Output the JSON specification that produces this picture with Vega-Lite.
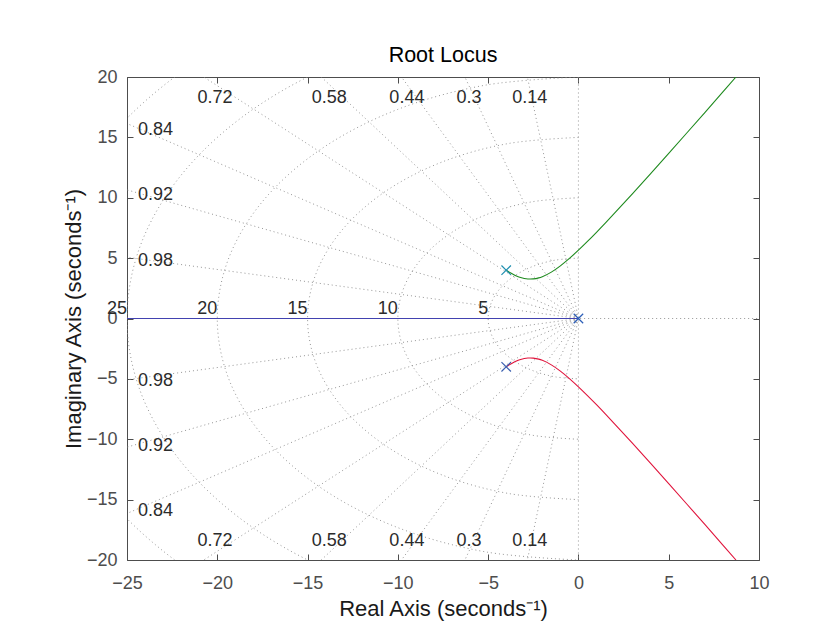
{
  "$schema": "https://vega.github.io/schema/vega-lite/v6.json",
  "width": 632,
  "height": 483,
  "autosize": "none",
  "padding": {"left": 127, "top": 77, "right": 81, "bottom": 70},
  "background": "white",
  "view": {"stroke": null},
  "config": {"font": "Liberation Sans"},
  "title": {"text": "Root Locus", "fontSize": 21.5, "fontWeight": "normal", "color": "#000000", "font": "Liberation Sans", "offset": -15, "baseline": "alphabetic", "anchor": "middle"},
  "datasets": {
    "circles": [
      {"r":5,"o":0,"x":0,"y":5},{"r":5,"o":1,"x":-1.294,"y":4.83},{"r":5,"o":2,"x":-2.5,"y":4.33},{"r":5,"o":3,"x":-3.536,"y":3.536},{"r":5,"o":4,"x":-4.33,"y":2.5},{"r":5,"o":5,"x":-4.83,"y":1.294},{"r":5,"o":6,"x":-5,"y":0},{"r":5,"o":7,"x":-4.83,"y":-1.294},{"r":5,"o":8,"x":-4.33,"y":-2.5},{"r":5,"o":9,"x":-3.536,"y":-3.536},{"r":5,"o":10,"x":-2.5,"y":-4.33},{"r":5,"o":11,"x":-1.294,"y":-4.83},{"r":5,"o":12,"x":0,"y":-5},
      {"r":10,"o":0,"x":0,"y":10},{"r":10,"o":1,"x":-2.588,"y":9.659},{"r":10,"o":2,"x":-5,"y":8.66},{"r":10,"o":3,"x":-7.071,"y":7.071},{"r":10,"o":4,"x":-8.66,"y":5},{"r":10,"o":5,"x":-9.659,"y":2.588},{"r":10,"o":6,"x":-10,"y":0},{"r":10,"o":7,"x":-9.659,"y":-2.588},{"r":10,"o":8,"x":-8.66,"y":-5},{"r":10,"o":9,"x":-7.071,"y":-7.071},{"r":10,"o":10,"x":-5,"y":-8.66},{"r":10,"o":11,"x":-2.588,"y":-9.659},{"r":10,"o":12,"x":0,"y":-10},
      {"r":15,"o":0,"x":0,"y":15},{"r":15,"o":1,"x":-3.882,"y":14.489},{"r":15,"o":2,"x":-7.5,"y":12.99},{"r":15,"o":3,"x":-10.607,"y":10.607},{"r":15,"o":4,"x":-12.99,"y":7.5},{"r":15,"o":5,"x":-14.489,"y":3.882},{"r":15,"o":6,"x":-15,"y":0},{"r":15,"o":7,"x":-14.489,"y":-3.882},{"r":15,"o":8,"x":-12.99,"y":-7.5},{"r":15,"o":9,"x":-10.607,"y":-10.607},{"r":15,"o":10,"x":-7.5,"y":-12.99},{"r":15,"o":11,"x":-3.882,"y":-14.489},{"r":15,"o":12,"x":0,"y":-15},
      {"r":20,"o":0,"x":0,"y":20},{"r":20,"o":1,"x":-5.176,"y":19.319},{"r":20,"o":2,"x":-10,"y":17.321},{"r":20,"o":3,"x":-14.142,"y":14.142},{"r":20,"o":4,"x":-17.321,"y":10},{"r":20,"o":5,"x":-19.319,"y":5.176},{"r":20,"o":6,"x":-20,"y":0},{"r":20,"o":7,"x":-19.319,"y":-5.176},{"r":20,"o":8,"x":-17.321,"y":-10},{"r":20,"o":9,"x":-14.142,"y":-14.142},{"r":20,"o":10,"x":-10,"y":-17.321},{"r":20,"o":11,"x":-5.176,"y":-19.319},{"r":20,"o":12,"x":0,"y":-20},
      {"r":25,"o":0,"x":0,"y":25},{"r":25,"o":1,"x":-6.47,"y":24.148},{"r":25,"o":2,"x":-12.5,"y":21.651},{"r":25,"o":3,"x":-17.678,"y":17.678},{"r":25,"o":4,"x":-21.651,"y":12.5},{"r":25,"o":5,"x":-24.148,"y":6.47},{"r":25,"o":6,"x":-25,"y":0},{"r":25,"o":7,"x":-24.148,"y":-6.47},{"r":25,"o":8,"x":-21.651,"y":-12.5},{"r":25,"o":9,"x":-17.678,"y":-17.678},{"r":25,"o":10,"x":-12.5,"y":-21.651},{"r":25,"o":11,"x":-6.47,"y":-24.148},{"r":25,"o":12,"x":0,"y":-25},
      {"r":30,"o":0,"x":0,"y":30},{"r":30,"o":1,"x":-7.765,"y":28.978},{"r":30,"o":2,"x":-15,"y":25.981},{"r":30,"o":3,"x":-21.213,"y":21.213},{"r":30,"o":4,"x":-25.981,"y":15},{"r":30,"o":5,"x":-28.978,"y":7.765},{"r":30,"o":6,"x":-30,"y":0},{"r":30,"o":7,"x":-28.978,"y":-7.765},{"r":30,"o":8,"x":-25.981,"y":-15},{"r":30,"o":9,"x":-21.213,"y":-21.213},{"r":30,"o":10,"x":-15,"y":-25.981},{"r":30,"o":11,"x":-7.765,"y":-28.978},{"r":30,"o":12,"x":0,"y":-30}
    ],
    "rays": [
      {"x":0,"y":0,"x2":-5.6,"y2":39.61},{"x":0,"y":0,"x2":-5.6,"y2":-39.61},
      {"x":0,"y":0,"x2":-12,"y2":38.16},{"x":0,"y":0,"x2":-12,"y2":-38.16},
      {"x":0,"y":0,"x2":-17.6,"y2":35.92},{"x":0,"y":0,"x2":-17.6,"y2":-35.92},
      {"x":0,"y":0,"x2":-23.2,"y2":32.58},{"x":0,"y":0,"x2":-23.2,"y2":-32.58},
      {"x":0,"y":0,"x2":-28.8,"y2":27.76},{"x":0,"y":0,"x2":-28.8,"y2":-27.76},
      {"x":0,"y":0,"x2":-33.6,"y2":21.7},{"x":0,"y":0,"x2":-33.6,"y2":-21.7},
      {"x":0,"y":0,"x2":-36.8,"y2":15.68},{"x":0,"y":0,"x2":-36.8,"y2":-15.68},
      {"x":0,"y":0,"x2":-39.2,"y2":7.96},{"x":0,"y":0,"x2":-39.2,"y2":-7.96},
      {"x":0,"y":-40,"x2":0,"y2":40},
      {"x":-40,"y":0,"x2":40,"y2":0}
    ],
    "locus": [
      {"b":"real","x":-40,"y":0},{"b":"real","x":0,"y":0},
      {"b":"up","x":-4,"y":4},{"b":"up","x":-3.8,"y":3.811},{"b":"up","x":-3.6,"y":3.644},{"b":"up","x":-3.4,"y":3.504},{"b":"up","x":-3.2,"y":3.394},{"b":"up","x":-3.0,"y":3.317},{"b":"up","x":-2.8,"y":3.274},{"b":"up","x":-2.667,"y":3.266},{"b":"up","x":-2.5,"y":3.279},{"b":"up","x":-2.2,"y":3.365},{"b":"up","x":-2.0,"y":3.464},{"b":"up","x":-1.5,"y":3.841},{"b":"up","x":-1.0,"y":4.359},{"b":"up","x":-0.5,"y":4.975},{"b":"up","x":0,"y":5.657},{"b":"up","x":0.5,"y":6.384},{"b":"up","x":1,"y":7.141},{"b":"up","x":1.5,"y":7.921},{"b":"up","x":2,"y":8.718},{"b":"up","x":3,"y":10.344},{"b":"up","x":4,"y":12},{"b":"up","x":5,"y":13.675},{"b":"up","x":6,"y":15.362},{"b":"up","x":7,"y":17.059},{"b":"up","x":8,"y":18.762},{"b":"up","x":8.725,"y":20},
      {"b":"lo","x":-4,"y":-4},{"b":"lo","x":-3.8,"y":-3.811},{"b":"lo","x":-3.6,"y":-3.644},{"b":"lo","x":-3.4,"y":-3.504},{"b":"lo","x":-3.2,"y":-3.394},{"b":"lo","x":-3.0,"y":-3.317},{"b":"lo","x":-2.8,"y":-3.274},{"b":"lo","x":-2.667,"y":-3.266},{"b":"lo","x":-2.5,"y":-3.279},{"b":"lo","x":-2.2,"y":-3.365},{"b":"lo","x":-2.0,"y":-3.464},{"b":"lo","x":-1.5,"y":-3.841},{"b":"lo","x":-1.0,"y":-4.359},{"b":"lo","x":-0.5,"y":-4.975},{"b":"lo","x":0,"y":-5.657},{"b":"lo","x":0.5,"y":-6.384},{"b":"lo","x":1,"y":-7.141},{"b":"lo","x":1.5,"y":-7.921},{"b":"lo","x":2,"y":-8.718},{"b":"lo","x":3,"y":-10.344},{"b":"lo","x":4,"y":-12},{"b":"lo","x":5,"y":-13.675},{"b":"lo","x":6,"y":-15.362},{"b":"lo","x":7,"y":-17.059},{"b":"lo","x":8,"y":-18.762},{"b":"lo","x":8.725,"y":-20}
    ],
    "poles": [
      {"p":"origin","x":0,"y":0},{"p":"upper","x":-4,"y":4},{"p":"lower","x":-4,"y":-4}
    ],
    "zlabels": [
      {"t":"0.72","x":-20.13,"y":18.22},{"t":"0.58","x":-13.8,"y":18.22},{"t":"0.44","x":-9.5,"y":18.22},{"t":"0.3","x":-6.06,"y":18.22},{"t":"0.14","x":-2.69,"y":18.22},
      {"t":"0.84","x":-23.42,"y":15.65},{"t":"0.92","x":-23.42,"y":10.19},{"t":"0.98","x":-23.42,"y":4.77},
      {"t":"0.72","x":-20.13,"y":-18.45},{"t":"0.58","x":-13.8,"y":-18.45},{"t":"0.44","x":-9.5,"y":-18.45},{"t":"0.3","x":-6.06,"y":-18.45},{"t":"0.14","x":-2.69,"y":-18.45},
      {"t":"0.84","x":-23.42,"y":-15.93},{"t":"0.92","x":-23.42,"y":-10.55},{"t":"0.98","x":-23.42,"y":-5.15}
    ],
    "wlabels": [
      {"t":"5","x":-5,"y":0.4},{"t":"10","x":-10,"y":0.4},{"t":"15","x":-15,"y":0.4},{"t":"20","x":-20,"y":0.4},{"t":"25","x":-25,"y":0.4}
    ]
  },
  "resolve": {"axis": {"x": "independent", "y": "independent"}, "scale": {"color": "independent"}},
  "layer": [
    {
      "data": {"name": "circles"},
      "mark": {"type": "line", "clip": true, "interpolate": "cardinal", "color": "#8a8a8a", "strokeWidth": 0.9, "strokeDash": [1, 3]},
      "encoding": {
        "x": {"field": "x", "type": "quantitative", "scale": {"domain": [-25, 10], "nice": false, "zero": false}, "axis": null},
        "y": {"field": "y", "type": "quantitative", "scale": {"domain": [-20, 20], "nice": false, "zero": false}, "axis": null},
        "detail": {"field": "r", "type": "nominal"},
        "order": {"field": "o", "type": "quantitative"}
      }
    },
    {
      "data": {"name": "rays"},
      "mark": {"type": "rule", "clip": true, "color": "#8a8a8a", "strokeWidth": 0.9, "strokeDash": [1, 3]},
      "encoding": {
        "x": {"field": "x", "type": "quantitative", "scale": {"domain": [-25, 10], "nice": false, "zero": false},
          "axis": {"orient": "bottom", "values": [-25, -20, -15, -10, -5, 0, 5, 10], "tickSize": -6, "tickColor": "#4d4d4d", "domainColor": "#4d4d4d", "labelPadding": 20, "labelFontSize": 18, "labelColor": "#4d4d4d", "labelFlush": false, "labelOverlap": false, "grid": false,
            "title": "Real Axis (seconds⁻¹)", "titleFontSize": 22, "titleFontWeight": "normal", "titleColor": "#1a1a1a", "titleY": 55, "titleBaseline": "alphabetic"}},
        "y": {"field": "y", "type": "quantitative", "scale": {"domain": [-20, 20], "nice": false, "zero": false},
          "axis": {"orient": "left", "values": [-20, -15, -10, -5, 0, 5, 10, 15, 20], "tickSize": -6, "tickColor": "#4d4d4d", "domainColor": "#4d4d4d", "labelPadding": 16, "labelFontSize": 18, "labelColor": "#4d4d4d", "labelFlush": false, "labelOverlap": false, "grid": false,
            "title": "Imaginary Axis (seconds⁻¹)", "titleFontSize": 22, "titleFontWeight": "normal", "titleColor": "#1a1a1a", "titleX": -47, "titleBaseline": "alphabetic"}},
        "x2": {"field": "x2"},
        "y2": {"field": "y2"}
      }
    },
    {
      "data": {"name": "locus"},
      "mark": {"type": "line", "clip": true, "strokeWidth": 1.1, "interpolate": "monotone"},
      "encoding": {
        "x": {"field": "x", "type": "quantitative",
          "axis": {"orient": "top", "values": [-25, -20, -15, -10, -5, 0, 5, 10], "tickSize": -6, "tickColor": "#4d4d4d", "domainColor": "#4d4d4d", "labels": false, "title": null, "grid": false}},
        "y": {"field": "y", "type": "quantitative",
          "axis": {"orient": "right", "values": [-20, -15, -10, -5, 0, 5, 10, 15, 20], "tickSize": -6, "tickColor": "#4d4d4d", "domainColor": "#4d4d4d", "labels": false, "title": null, "grid": false}},
        "color": {"field": "b", "type": "nominal", "scale": {"domain": ["real", "up", "lo"], "range": ["#4242b0", "#1e8a1e", "#e0143c"]}, "legend": null},
        "order": {"field": "x", "type": "quantitative"}
      }
    },
    {
      "data": {"name": "poles"},
      "mark": {"type": "point", "shape": "M-1,-1L1,1M1,-1L-1,1", "filled": false, "size": 90, "strokeWidth": 1.2, "opacity": 1},
      "encoding": {
        "x": {"field": "x", "type": "quantitative", "axis": null},
        "y": {"field": "y", "type": "quantitative", "axis": null},
        "color": {"field": "p", "type": "nominal", "scale": {"domain": ["origin", "upper", "lower"], "range": ["#2d5fb8", "#1f8fb0", "#3a5fb0"]}, "legend": null}
      }
    },
    {
      "data": {"name": "zlabels"},
      "mark": {"type": "text", "fontSize": 18, "color": "#2b2b2b", "align": "center", "baseline": "middle", "font": "Liberation Sans"},
      "encoding": {
        "x": {"field": "x", "type": "quantitative", "axis": null},
        "y": {"field": "y", "type": "quantitative", "axis": null},
        "text": {"field": "t", "type": "nominal"}
      }
    },
    {
      "data": {"name": "wlabels"},
      "mark": {"type": "text", "fontSize": 18, "color": "#2b2b2b", "align": "right", "baseline": "alphabetic", "font": "Liberation Sans"},
      "encoding": {
        "x": {"field": "x", "type": "quantitative", "axis": null},
        "y": {"field": "y", "type": "quantitative", "axis": null},
        "text": {"field": "t", "type": "nominal"}
      }
    }
  ]
}
